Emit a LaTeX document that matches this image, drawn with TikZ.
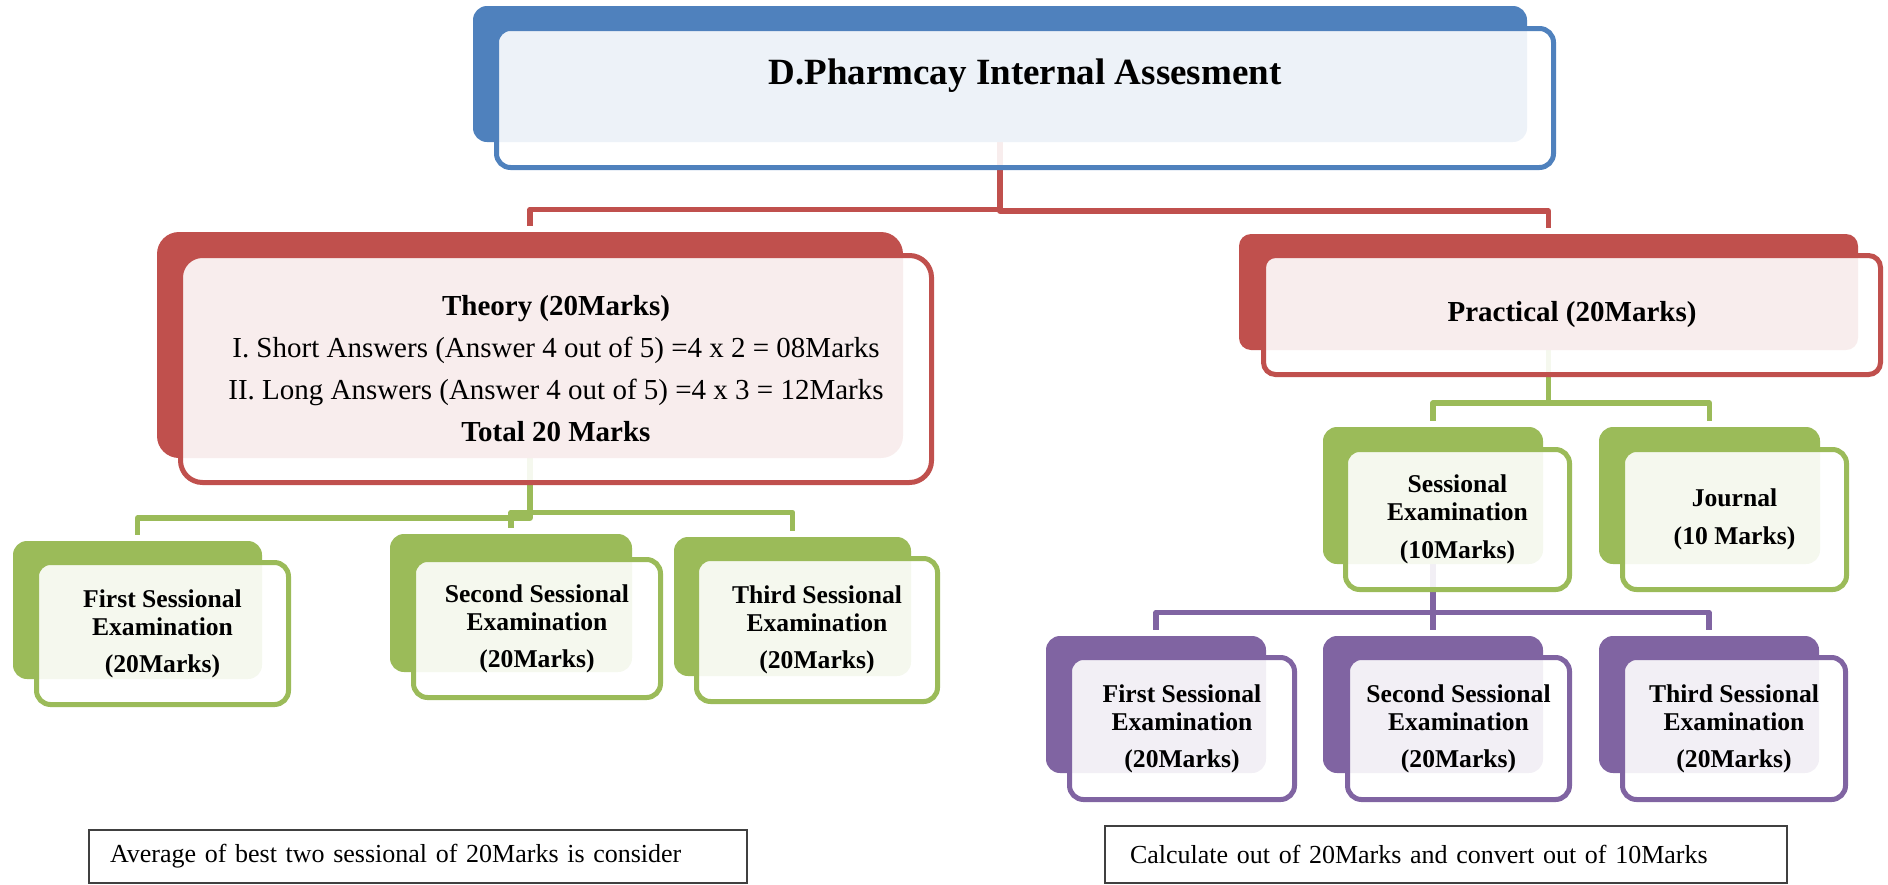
\documentclass[tikz,border=0pt]{standalone}
\usepackage{fontspec}
\setmainfont{Liberation Serif}
\usetikzlibrary{backgrounds}
\definecolor{accblue}{HTML}{4F81BD}
\definecolor{accred}{HTML}{C0504D}
\definecolor{accgreen}{HTML}{9BBB59}
\definecolor{accpurple}{HTML}{8064A2}
\tikzset{
  backbox/.style={fill=#1, inner sep=0pt},
  frontbox/.style={draw=#1, line width=2.5pt, fill=white, fill opacity=0.9, text opacity=1, inner sep=0pt, align=center},
  link/.style={draw=#1, line width=2.6pt, line join=round, shorten >=3pt},
  headtext/.style={font=\fontsize{18.5}{22}\selectfont\bfseries},
  bigtext/.style={font=\fontsize{14.5}{21}\selectfont},
  smalltext/.style={font=\fontsize{12.8}{14}\selectfont\bfseries},
  note/.style={draw=black!75, line width=0.7pt, inner sep=0pt, align=left, font=\fontsize{13}{15}\selectfont}
}
\begin{document}
\begin{tikzpicture}[x=0.5pt, y=-0.5pt]
\useasboundingbox (0,0) rectangle (1888,884);

\node[backbox=accblue, rounded corners=7pt, minimum width=527pt, minimum height=68pt] (topB) at (1000,74) {};
\node[frontbox=accblue, rounded corners=7pt, minimum width=528.5pt, minimum height=69.5pt, headtext, text depth=26pt] (top) at (1025,98) {D.Pharmcay Internal Assesment};

\node[backbox=accred, rounded corners=11pt, minimum width=373pt, minimum height=113pt] (thB) at (530,345) {};
\node[frontbox=accred, rounded corners=11pt, minimum width=375.5pt, minimum height=113.5pt, bigtext] (th) at (556,369)
  {\textbf{Theory (20Marks)}\\ I. Short Answers (Answer 4 out of 5) =4 x 2 = 08Marks\\ II. Long Answers (Answer 4 out of 5) =4 x 3 = 12Marks\\ \textbf{Total 20 Marks}};

\node[backbox=accred, rounded corners=6pt, minimum width=309.5pt, minimum height=58pt] (prB) at (1548.5,292) {};
\node[frontbox=accred, rounded corners=6pt, minimum width=308.5pt, minimum height=59.5pt, bigtext] (pr) at (1572,315) {\textbf{Practical (20Marks)}};

\node[backbox=accgreen, rounded corners=7pt, minimum width=124.5pt, minimum height=69pt] (t1B) at (137.5,610) {};
\node[frontbox=accgreen, rounded corners=7pt, minimum width=126pt, minimum height=71pt, smalltext] (t1) at (162.5,633.5) {First Sessional\\ Examination\\[4.5pt] (20Marks)};

\node[backbox=accgreen, rounded corners=7pt, minimum width=121pt, minimum height=69pt] (t2B) at (511,603) {};
\node[frontbox=accgreen, rounded corners=7pt, minimum width=123.5pt, minimum height=69pt, smalltext] (t2) at (537,628.5) {Second Sessional\\ Examination\\[4.5pt] (20Marks)};

\node[backbox=accgreen, rounded corners=7pt, minimum width=118.5pt, minimum height=69.5pt] (t3B) at (792.5,606.5) {};
\node[frontbox=accgreen, rounded corners=7pt, minimum width=120.5pt, minimum height=71.5pt, smalltext] (t3) at (817,630) {Third Sessional\\ Examination\\[4.5pt] (20Marks)};

\node[backbox=accgreen, rounded corners=7pt, minimum width=110pt, minimum height=68.5pt] (seB) at (1433,495.5) {};
\node[frontbox=accgreen, rounded corners=7pt, minimum width=112pt, minimum height=70pt, smalltext] (se) at (1457.5,519.5) {Sessional\\ Examination\\[5pt] (10Marks)};

\node[backbox=accgreen, rounded corners=7pt, minimum width=110.5pt, minimum height=68.5pt] (joB) at (1709.5,495.5) {};
\node[frontbox=accgreen, rounded corners=7pt, minimum width=112pt, minimum height=70pt, smalltext] (jo) at (1734.5,519.5) {Journal\\[5pt] (10 Marks)};

\node[backbox=accpurple, rounded corners=7pt, minimum width=110pt, minimum height=68.5pt] (p1B) at (1156,704.5) {};
\node[frontbox=accpurple, rounded corners=7pt, minimum width=112.5pt, minimum height=71pt, smalltext] (p1) at (1182,728.5) {First Sessional\\ Examination\\[4.5pt] (20Marks)};

\node[backbox=accpurple, rounded corners=7pt, minimum width=110pt, minimum height=68.5pt] (p2B) at (1433,704.5) {};
\node[frontbox=accpurple, rounded corners=7pt, minimum width=111pt, minimum height=71pt, smalltext] (p2) at (1458.5,728.5) {Second Sessional\\ Examination\\[4.5pt] (20Marks)};

\node[backbox=accpurple, rounded corners=7pt, minimum width=110pt, minimum height=68.5pt] (p3B) at (1709,704.5) {};
\node[frontbox=accpurple, rounded corners=7pt, minimum width=111.5pt, minimum height=71pt, smalltext] (p3) at (1734,728.5) {Third Sessional\\ Examination\\[4.5pt] (20Marks)};

\node[note, text width=308pt, inner xsep=10.5pt, minimum height=26.5pt] (avg) at (418,856.5) {Average of best two sessional of 20Marks is consider};
\node[note, text width=316pt, inner xsep=12.5pt, minimum height=28.5pt] (calc) at (1446,854.5) {Calculate out of 20Marks and convert out of 10Marks};

\begin{scope}[on background layer]
\draw[link=accred] (topB.south) -- ++(0,67) -| (thB.north);
\draw[link=accred] (topB.south) -- ++(0,68.5) -| (prB.north);
\draw[link=accgreen] (thB.south) -- ++(0,59.5) -| (t1B.north);
\draw[link=accgreen] (thB.south) -- ++(0,54) -| (t2B.north);
\draw[link=accgreen] (thB.south) -- ++(0,54) -| (t3B.north);
\draw[link=accgreen] (prB.south) -- ++(0,52.5) -| (seB.north);
\draw[link=accgreen] (prB.south) -- ++(0,52.5) -| (joB.north);
\draw[link=accpurple] (seB.south) -- ++(0,48) -| (p1B.north);
\draw[link=accpurple] (seB.south) -- ++(0,48) -| (p2B.north);
\draw[link=accpurple] (seB.south) -- ++(0,48) -| (p3B.north);
\end{scope}
\end{tikzpicture}
\end{document}
